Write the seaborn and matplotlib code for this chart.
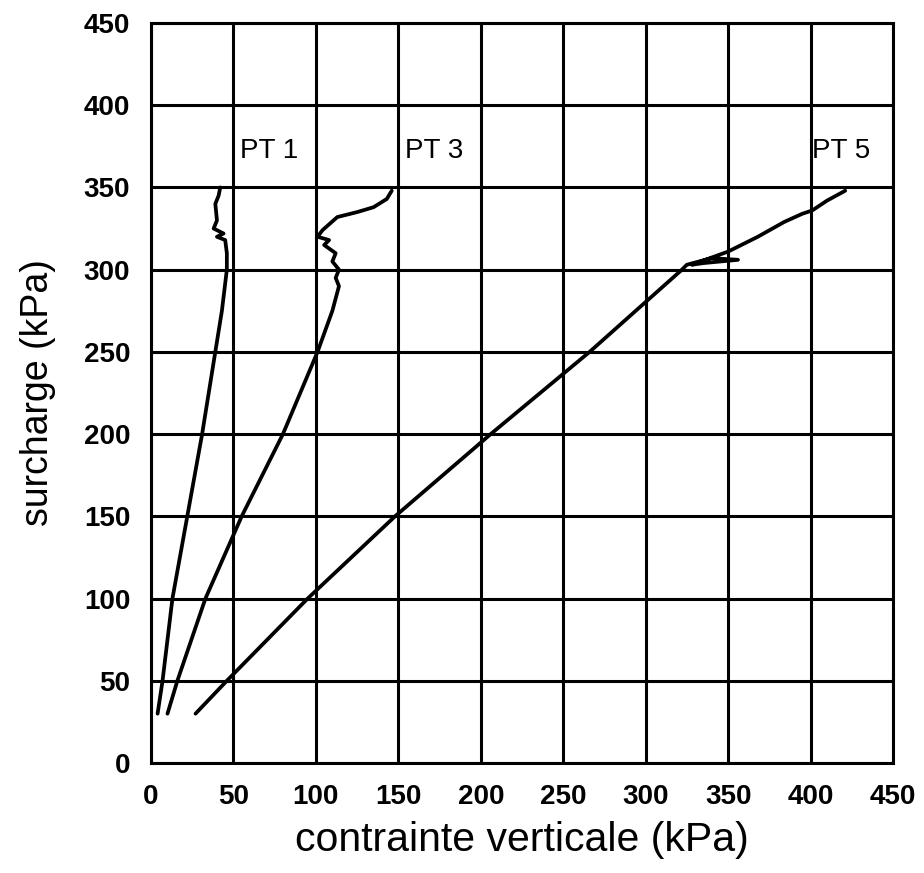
import matplotlib
matplotlib.use("Agg")
import matplotlib.pyplot as plt
import seaborn as sns
import pandas as pd

# ---- data ----
pt1_x = [4, 7, 13, 22, 31, 39, 43, 46, 46, 45, 40, 44, 38, 40, 39, 41, 42]
pt1_y = [30, 50, 100, 150, 200, 250, 275, 300, 310, 318, 320, 322, 325, 330, 340, 345, 350]

pt3_x = [10, 16, 33, 55, 80, 101, 110, 114, 112, 114, 110, 112, 105, 108, 101, 104, 113, 125, 135, 143, 146]
pt3_y = [30, 50, 100, 150, 200, 250, 275, 290, 295, 300, 305, 310, 315, 318, 320, 324, 332, 335, 338, 343, 348]

pt5_x = [27, 46, 95, 148, 206, 266, 322, 325, 340, 356, 335, 328, 350, 368, 384, 395, 401, 410, 421]
pt5_y = [30, 50, 100, 150, 200, 250, 300, 303, 307, 306, 304, 303, 311, 320, 329, 334, 336, 342, 348]

labels = ["PT 1", "PT 3", "PT 5"]
label_x = [53, 153, 400]
label_y = [372, 372, 372]

ticks = [0, 50, 100, 150, 200, 250, 300, 350, 400, 450]

sns.set_theme(style="white")
plt.rcParams['font.family'] = ['Liberation Sans', 'DejaVu Sans']
plt.rcParams['text.color'] = 'black'
plt.rcParams['axes.labelcolor'] = 'black'
plt.rcParams['xtick.color'] = 'black'
plt.rcParams['ytick.color'] = 'black'

fig = plt.figure(figsize=(9.24, 8.73), dpi=100)
ax = fig.add_axes([151/924, 1 - 763/873, (893-151)/924, (763-23)/873])

curves = [(pt1_x, pt1_y), (pt3_x, pt3_y), (pt5_x, pt5_y)]
for cx, cy in curves:
    df = pd.DataFrame({"x": cx, "y": cy})
    sns.lineplot(data=df, x="x", y="y", sort=False, estimator=None,
                 color="black", linewidth=2.7, ax=ax)

for lab, lx, ly in zip(labels, label_x, label_y):
    ax.text(lx + 1, ly, lab, fontsize=20, color="black", ha="left", va="center")

ax.set_xlim(0, 450)
ax.set_ylim(0, 450)
ax.set_xticks(ticks)
ax.set_yticks(ticks)
ax.grid(True, color="black", linewidth=2.2)
ax.set_axisbelow(True)
for s in ax.spines.values():
    s.set_color("black")
    s.set_linewidth(2.2)
ax.tick_params(axis="both", direction="out", length=9, width=2, color="black",
               labelsize=20, pad=6, labelcolor="black")
for t in ax.get_xticklabels() + ax.get_yticklabels():
    t.set_fontweight("bold")

ax.set_xlabel("contrainte verticale (kPa)", fontsize=29.5, labelpad=8, color="black")
ax.set_ylabel("surcharge (kPa)", fontsize=27, labelpad=20, color="black")

fig.savefig("out.png", dpi=100, facecolor="white")
